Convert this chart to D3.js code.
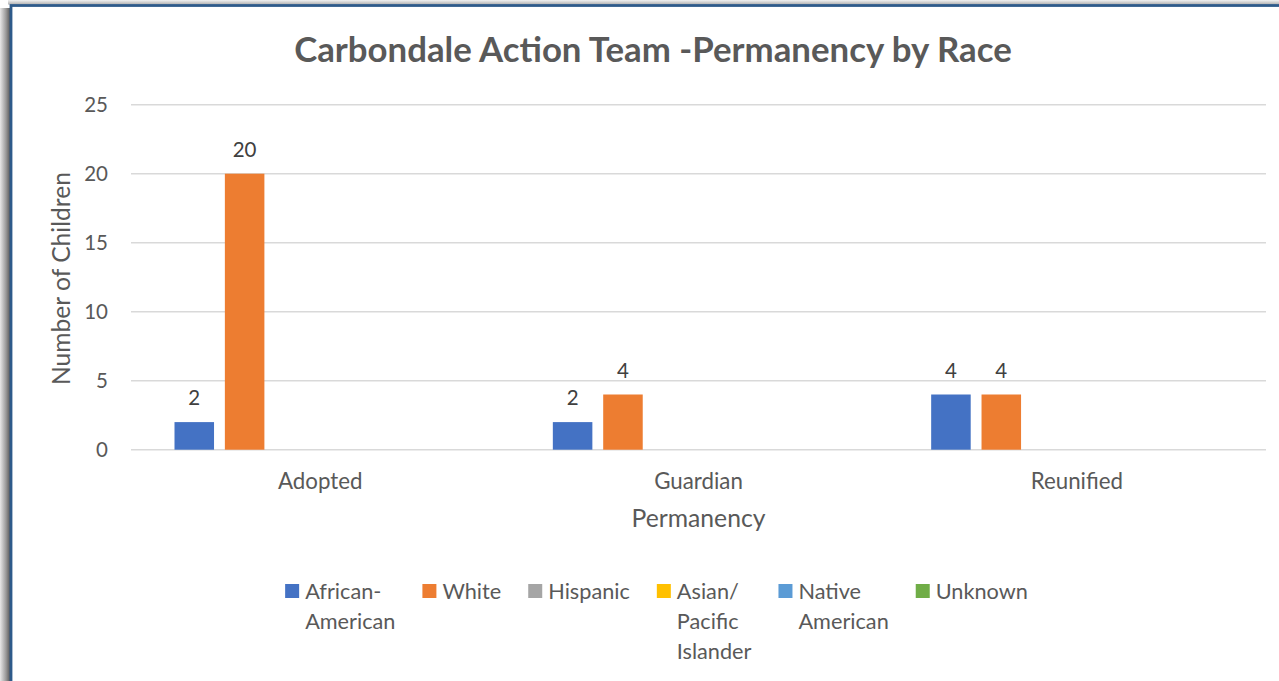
<!DOCTYPE html>
<html><head><meta charset="utf-8">
<script src="https://cdn.jsdelivr.net/npm/d3@7/dist/d3.min.js"></script>
<style>html,body{margin:0;padding:0;background:#fff;overflow:hidden}svg{display:block}</style>
</head><body>
<svg id="c" width="1279" height="681"></svg>
<script>
const title = "Carbondale Action Team -Permanency by Race";
const xTitle = "Permanency";
const yTitle = "Number of Children";
const categories = ["Adopted", "Guardian", "Reunified"];
const seriesNames = ["African-American", "White", "Hispanic", "Asian/Pacific Islander", "Native American", "Unknown"];
const legendLines = [["African-", "American"], ["White"], ["Hispanic"], ["Asian/", "Pacific", "Islander"], ["Native", "American"], ["Unknown"]];
const africanAmerican = [2, 2, 4];
const white = [20, 4, 4];
const hispanic = [0, 0, 0];
const asianPacific = [0, 0, 0];
const nativeAmerican = [0, 0, 0];
const unknown = [0, 0, 0];
const seriesValues = [africanAmerican, white, hispanic, asianPacific, nativeAmerican, unknown];
const seriesColors = ["#4472C4", "#ED7D31", "#A5A5A5", "#FFC000", "#5B9BD5", "#70AD47"];
const yTicks = [0, 5, 10, 15, 20, 25];

const FONT = "Lato, 'Open Sans', sans-serif";
const svg = d3.select("#c");

// frame shadow + border
const defs = svg.append("defs");
const gl = defs.append("linearGradient").attr("id", "shL").attr("x1", "0").attr("x2", "1").attr("y1", "0").attr("y2", "0");
gl.append("stop").attr("offset", "0").attr("stop-color", "#e8e8e8");
gl.append("stop").attr("offset", "0.6").attr("stop-color", "#9a9a9a");
gl.append("stop").attr("offset", "1").attr("stop-color", "#5a5a5a");
const gt = defs.append("linearGradient").attr("id", "shT").attr("x1", "0").attr("x2", "0").attr("y1", "0").attr("y2", "1");
gt.append("stop").attr("offset", "0").attr("stop-color", "#f2f2f2");
gt.append("stop").attr("offset", "1").attr("stop-color", "#b0b0b0");
svg.append("rect").attr("x", 0).attr("y", 8).attr("width", 10).attr("height", 681).attr("fill", "url(#shL)");
svg.append("rect").attr("x", 8).attr("y", 0).attr("width", 1279).attr("height", 4.5).attr("fill", "url(#shT)");
svg.append("rect").attr("x", 11).attr("y", 5.5).attr("width", 1400).attr("height", 800)
  .attr("fill", "#fff").attr("stroke", "#2E5A8A").attr("stroke-width", 2.8);

// scales
const x0 = d3.scaleBand().domain(categories).range([131, 1266]).padding(0);
const x1 = d3.scaleBand().domain(seriesNames).range([43.5, x0.bandwidth() - 43.5]).paddingInner(0.215).paddingOuter(0);
const y = d3.scaleLinear().domain([0, 25]).range([449.7, 104.7]);

// gridlines
svg.append("g").selectAll("line").data(yTicks).join("line")
  .attr("x1", 131).attr("x2", 1266)
  .attr("y1", d => y(d)).attr("y2", d => y(d))
  .attr("stroke", "#D9D9D9").attr("stroke-width", 1.5);

// y tick labels via axis
const yAxis = svg.append("g").attr("transform", "translate(131,0)")
  .call(d3.axisLeft(y).tickValues(yTicks).tickSize(0).tickPadding(23));
yAxis.select(".domain").remove();
yAxis.selectAll("text").attr("font-family", FONT).attr("font-size", 20.5).attr("fill", "#595959");

// x labels via axis
const xAxis = svg.append("g").attr("transform", "translate(0,449.7)")
  .call(d3.axisBottom(x0).tickSize(0).tickPadding(23));
xAxis.select(".domain").remove();
xAxis.selectAll("text").attr("font-family", FONT).attr("font-size", 22.3).attr("fill", "#595959");

// bars
const groups = svg.append("g").selectAll("g").data(categories).join("g")
  .attr("transform", d => `translate(${x0(d)},0)`);
groups.selectAll("rect").data((c, ci) => seriesNames.map((s, si) => ({ s, si, v: seriesValues[si][ci] })))
  .join("rect")
  .attr("x", d => x1(d.s)).attr("width", x1.bandwidth())
  .attr("y", d => y(d.v)).attr("height", d => y(0) - y(d.v))
  .attr("fill", d => seriesColors[d.si]);
groups.selectAll("text").data((c, ci) => seriesNames.map((s, si) => ({ s, si, v: seriesValues[si][ci] })).filter(d => d.v > 0))
  .join("text")
  .attr("x", d => x1(d.s) + x1.bandwidth() / 2).attr("y", d => y(d.v) - 17)
  .attr("text-anchor", "middle").attr("font-family", FONT).attr("font-size", 20.5).attr("fill", "#404040")
  .text(d => d.v);

// fit helper
function fitText(sel, base, target) {
  sel.attr("font-size", base);
  const w = sel.node().getComputedTextLength();
  sel.attr("font-size", base * target / w);
}

// title
const t = svg.append("text").attr("x", 653).attr("y", 62).attr("text-anchor", "middle")
  .attr("font-family", FONT).attr("font-weight", "bold").attr("fill", "#595959").text(title);
fitText(t, 30, 718);

// axis titles
const xt = svg.append("text").attr("x", 698.5).attr("y", 527).attr("text-anchor", "middle")
  .attr("font-family", FONT).attr("fill", "#595959").text(xTitle);
fitText(xt, 22, 134);
const yt = svg.append("text").attr("transform", "translate(70,278.5) rotate(-90)").attr("text-anchor", "middle")
  .attr("font-family", FONT).attr("fill", "#595959").text(yTitle);
fitText(yt, 22, 213);

// legend
const lg = svg.append("g");
const items = lg.selectAll("g").data(seriesNames).join("g");
items.append("rect").attr("width", 14).attr("height", 14).attr("y", 584).attr("fill", (d, i) => seriesColors[i]);
const widths = [];
items.each(function (d, i) {
  const g = d3.select(this);
  let mw = 0;
  legendLines[i].forEach((ln, li) => {
    const tx = g.append("text").attr("x", 20).attr("y", 598.5 + li * 30)
      .attr("font-family", FONT).attr("font-size", 21.7).attr("fill", "#595959").text(ln);
    mw = Math.max(mw, tx.node().getComputedTextLength());
  });
  widths.push(mw);
});
const gap = 27;
const total = d3.sum(widths) + widths.length * 20 + gap * (widths.length - 1);
let cx = 656.5 - total / 2;
items.each(function (d, i) {
  d3.select(this).attr("transform", `translate(${cx},0)`);
  cx += 20 + widths[i] + gap;
});
</script>
</body></html>
